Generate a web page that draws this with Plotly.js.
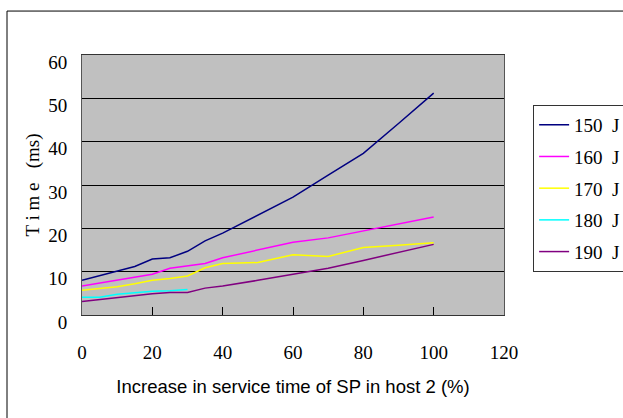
<!DOCTYPE html>
<html>
<head>
<meta charset="utf-8">
<script src="https://cdn.plot.ly/plotly-3.0.1.min.js"></script>
<style>html,body{margin:0;padding:0;background:#fff;}#chart{width:623px;height:418px;}</style>
</head>
<body>
<div id="chart"></div>
<script>
// Data
const seriesNames = ["150\u2002J", "160\u2002J", "170\u2002J", "180\u2002J", "190\u2002J"];
const xMain = [0, 10, 15, 20, 25, 30, 35, 40, 50, 60, 70, 80, 90, 100];
const xShort = [0, 5, 10, 15, 20, 25, 30];
const y150 = [8.0, 10.2, 11.2, 12.9, 13.2, 14.7, 17.1, 18.9, 23.0, 27.2, 32.3, 37.3, 44.2, 51.2];
const y160 = [6.7, 8.0, 8.7, 9.4, 10.8, 11.3, 11.9, 13.2, 15.0, 16.8, 17.8, 19.4, 21.0, 22.6];
const y170 = [5.7, 6.5, 7.2, 8.0, 8.4, 9.0, 10.9, 11.9, 12.1, 13.9, 13.5, 15.6, 16.1, 16.7];
const y180 = [4.1, 4.1, 4.8, 5.2, 5.5, 5.6, 5.9];
const y190 = [3.1, 4.0, 4.6, 4.9, 5.2, 5.2, 6.2, 6.7, 8.0, 9.4, 10.8, 12.6, 14.4, 16.3];
const xTickVals = [0, 20, 40, 60, 80, 100, 120];
const yTickVals = [0, 10, 20, 30, 40, 50, 60];

const colors = ["#000080", "#FF00FF", "#FFFF00", "#00FFFF", "#800080"];
const xs = [xMain, xMain, xMain, xShort, xMain];
const ys = [y150, y160, y170, y180, y190];

const serif = "'Liberation Serif', 'DejaVu Serif', serif";
const traces = ys.map((y, i) => ({
  type: "scatter", mode: "lines",
  x: xs[i], y: y, name: seriesNames[i],
  legendgroup: "g" + i,
  line: {color: colors[i], width: 1.5}
}));

const layout = {
  width: 623, height: 418,
  margin: {l: 82, r: 119, t: 55, b: 103, pad: 0, autoexpand: false},
  paper_bgcolor: "#ffffff",
  plot_bgcolor: "#C0C0C0",
  showlegend: true,
  font: {family: serif, size: 19, color: "#000"},
  xaxis: {
    range: [0, 120], tickvals: xTickVals, ticktext: xTickVals.map(String),
    ticks: "inside", ticklen: 8, tickcolor: "#000", tickwidth: 1,
    showgrid: false, zeroline: false,
    showline: true, linecolor: "#333", linewidth: 1, mirror: true,
    ticklabelstandoff: 20,
    tickfont: {family: serif, size: 19, color: "#000"},
    title: {text: "Increase in service time of SP in host 2 (%)",
            font: {family: "'Liberation Sans Narrow', 'Arial Narrow', 'Liberation Sans', sans-serif", size: 18.5, color: "#000"},
            standoff: 18}
  },
  yaxis: {
    range: [0, 60], tickvals: yTickVals, ticktext: yTickVals.map(String),
    ticks: "inside", ticklen: 4, tickcolor: "#000",
    showgrid: true, gridcolor: "#000", gridwidth: 1,
    zeroline: false,
    showline: true, linecolor: "#555", linewidth: 1, mirror: true,
    ticklabelstandoff: 10,
    ticklabelshift: 7,
    tickfont: {family: serif, size: 19, color: "#000"},
    title: {text: "T i m e\u2002 (ms)", font: {family: serif, size: 19, color: "#000"}, standoff: 3}
  },
  legend: {
    x: 1.069, y: 0.808, xanchor: "left", yanchor: "top",
    bgcolor: "#fff", bordercolor: "#333", borderwidth: 1,
    font: {family: serif, size: 19, color: "#000"},
    traceorder: "grouped", tracegroupgap: 4,
    itemwidth: 30
  },
  shapes: [{
    type: "rect", xref: "paper", yref: "paper",
    x0: -0.1777, x1: 1.6, y0: -0.6, y1: 1.169,
    line: {color: "#000", width: 1}, fillcolor: "rgba(0,0,0,0)", layer: "below"
  }]
};

Plotly.newPlot("chart", traces, layout, {displayModeBar: false, staticPlot: true});
</script>
</body>
</html>
